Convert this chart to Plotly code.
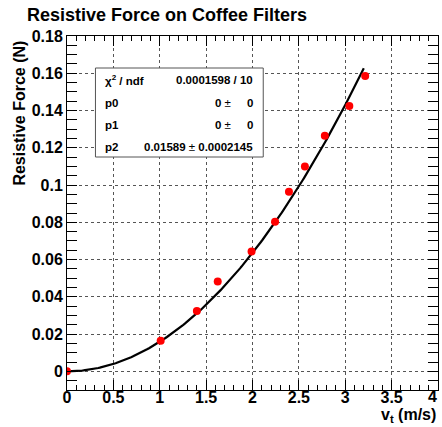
import numpy as np
import plotly.graph_objects as go

# Data
v_t = [0.0, 1.01, 1.40, 1.625, 1.99, 2.243, 2.393, 2.565, 2.78, 3.044, 3.215]
force = [0.0, 0.0164, 0.0324, 0.0483, 0.0643, 0.0803, 0.0964, 0.110, 0.1265, 0.1424, 0.1585]
p2 = 0.01589
fit_xmax = 3.2

x_tickvals = [0, 0.5, 1, 1.5, 2, 2.5, 3, 3.5, 4]
x_ticktext = ["0", "0.5", "1", "1.5", "2", "2.5", "3", "3.5", "4"]
y_tickvals = [0, 0.02, 0.04, 0.06, 0.08, 0.1, 0.12, 0.14, 0.16, 0.18]
y_ticktext = ["0", "0.02", "0.04", "0.06", "0.08", "0.1", "0.12", "0.14", "0.16", "0.18"]

NB = "\u00a0"
PM = "<span style='font-weight:normal'>±</span>"
stats_labels = ["χ<sup>2</sup> / ndf", "p0", "p1", "p2"]
stats_values = ["0.0001598 / 10",
                "0 " + PM + NB * 5 + "0",
                "0 " + PM + NB * 5 + "0",
                "0.01589 " + PM + " 0.0002145"]

FONT = "Liberation Sans"

fx = np.linspace(0, fit_xmax, 200)
fy = p2 * fx ** 2

fig = go.Figure()
fig.add_trace(go.Scatter(x=fx, y=fy, mode="lines",
                         line=dict(color="black", width=2.2), hoverinfo="skip"))
fig.add_trace(go.Scatter(x=v_t, y=force, mode="markers",
                         marker=dict(color="#ff0000", size=8, symbol="circle")))

L, R, T, B = 66.5, 4, 36, 37
W, H = 442, 427
pw = W - L - R
ph = H - T - B

def px(xp):
    return (xp - L) / pw

def py(yp):
    return (H - B - yp) / ph

tickfont = dict(family=FONT, size=16, color="black", weight="bold")
axis_common = dict(
    showline=True, linecolor="black", linewidth=1, mirror="allticks",
    ticks="inside", ticklen=10, tickcolor="black", tickwidth=1,
    showgrid=True, gridcolor="#555555", griddash="dot", gridwidth=1,
    zeroline=False, tickmode="array", tickfont=tickfont,
)

fig.update_xaxes(range=[0, 4], tickvals=x_tickvals, showticklabels=False,
                 minor=dict(tick0=0, dtick=0.1, ticks="inside", ticklen=5,
                            tickcolor="black", showgrid=False),
                 **axis_common)
fig.update_yaxes(range=[-0.01, 0.18], tickvals=y_tickvals, ticktext=y_ticktext,
                 minor=dict(tick0=0, dtick=0.005, ticks="inside", ticklen=5,
                            tickcolor="black", showgrid=False),
                 **axis_common)

# label-only axis, placed a little above the frame's bottom edge (ROOT-like label offset);
# the last label is drawn shifted inward as in the reference
x_ticktext_axis = x_ticktext[:-1] + [""]
fig.update_layout(xaxis2=dict(
    overlaying="x", matches="x", anchor="free", position=py(386), side="bottom",
    range=[0, 4], tickmode="array", tickvals=x_tickvals, ticktext=x_ticktext_axis,
    showline=False, showgrid=False, zeroline=False, ticks="", tickfont=tickfont,
))
fig.add_trace(go.Scatter(x=[0, 4], y=[None, None], xaxis="x2", yaxis="y",
                         mode="markers", hoverinfo="skip", showlegend=False))

annotations = [
    dict(text="Resistive Force on Coffee Filters", xref="paper", yref="paper",
         x=px(24), y=py(3), xanchor="left", yanchor="top", showarrow=False,
         font=dict(family=FONT, size=18, color="black", weight="bold")),
    dict(text="Resistive Force (N)", xref="paper", yref="paper",
         x=px(8), y=py(39), xanchor="left", yanchor="top", textangle=-90,
         showarrow=False,
         font=dict(family=FONT, size=16, color="black", weight="bold")),
    dict(text="v<sub>t</sub> (m/s)", xref="paper", yref="paper",
         x=px(438), y=py(427), xanchor="right", yanchor="bottom",
         showarrow=False,
         font=dict(family=FONT, size=16, color="black", weight="bold")),
    dict(text=x_ticktext[-1], xref="x", yref="paper",
         x=x_tickvals[-1], y=py(386), xanchor="right", yanchor="top",
         showarrow=False, xshift=1, font=tickfont),
]

row_y = [80, 103, 125, 147]
for lab, val, ry in zip(stats_labels, stats_values, row_y):
    annotations.append(dict(text=lab, xref="paper", yref="paper", x=px(103), y=py(ry),
                            xanchor="left", yanchor="middle", showarrow=False,
                            font=dict(family=FONT, size=11.5, color="black", weight="bold")))
    annotations.append(dict(text=val, xref="paper", yref="paper", x=px(255), y=py(ry),
                            xanchor="right", yanchor="middle", showarrow=False,
                            font=dict(family=FONT, size=11.5, color="black", weight="bold")))

fig.add_shape(type="rect", xref="paper", yref="paper",
              x0=px(95), x1=px(263), y0=py(157), y1=py(68),
              line=dict(color="#555555", width=1), fillcolor="white", layer="above")

fig.update_layout(
    width=W, height=H,
    margin=dict(l=L, r=R, t=T, b=B, pad=0),
    paper_bgcolor="white", plot_bgcolor="white",
    showlegend=False,
    annotations=annotations,
)

fig.write_html("out.html")
